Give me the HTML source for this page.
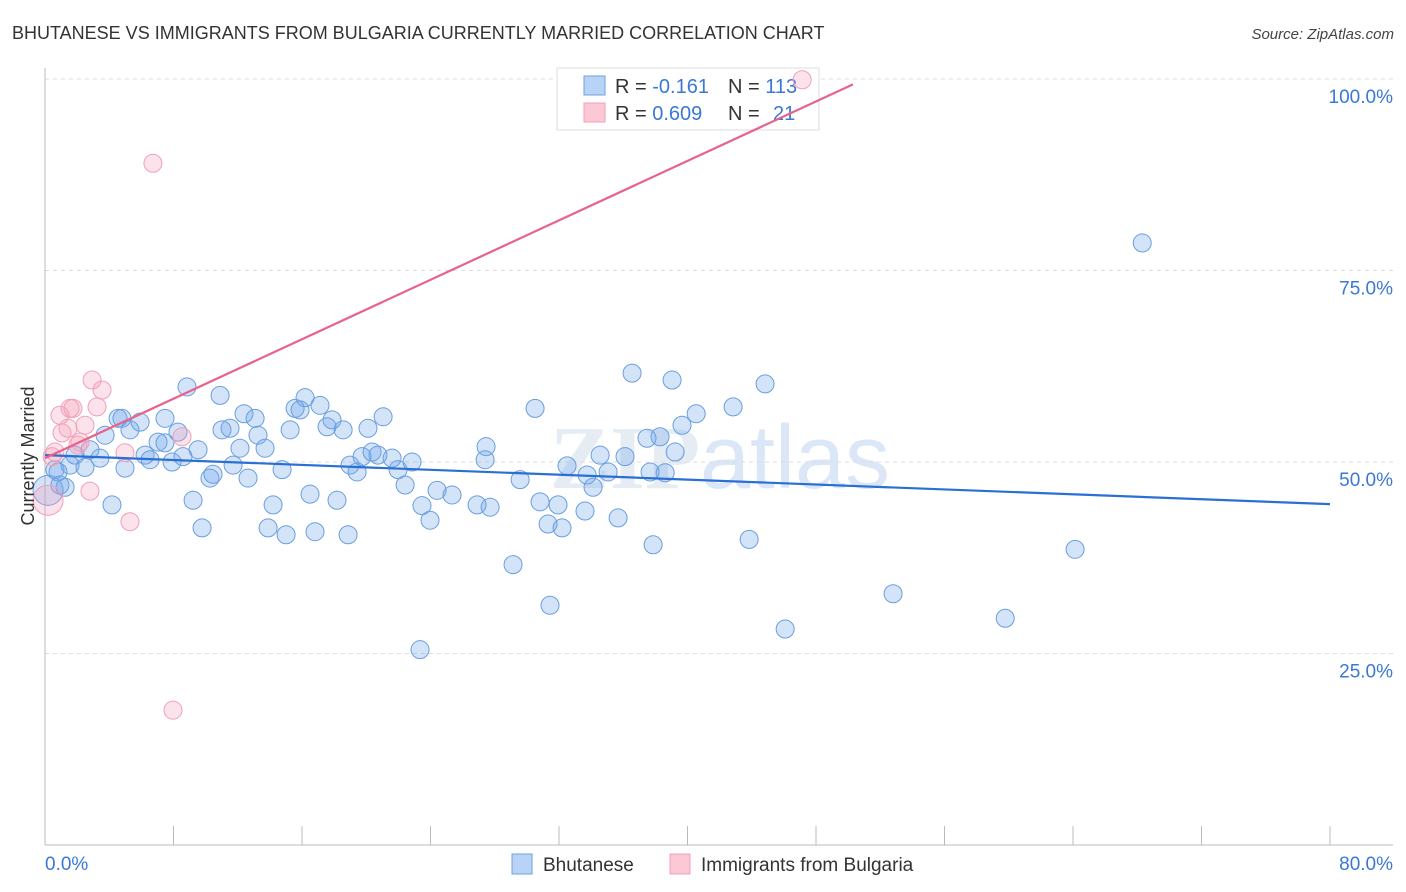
<!DOCTYPE html>
<html><head><meta charset="utf-8"><style>
body{margin:0;background:#fff;font-family:"Liberation Sans",sans-serif;}
svg{display:block}
</style></head><body>
<svg id="chart" width="1406" height="892" viewBox="0 0 1406 892" xmlns="http://www.w3.org/2000/svg">
<text x="12" y="39" font-size="18" fill="#333" font-family="Liberation Sans, sans-serif">BHUTANESE VS IMMIGRANTS FROM BULGARIA CURRENTLY MARRIED CORRELATION CHART</text>
<text x="1394" y="39" font-size="15" fill="#444" text-anchor="end" font-style="italic">Source: ZipAtlas.com</text>
<text x="720" y="488" font-size="90" fill="#e6ecf4" text-anchor="middle" font-weight="bold" font-family="Liberation Serif, serif">ZIP<tspan font-weight="normal" font-family="Liberation Sans, sans-serif" fill="#dbe7f6">atlas</tspan></text>
<g id="grid"></g>
<g id="axes"></g>
<g>
<rect x="557" y="68" width="262" height="62" fill="#fff" stroke="#ddd"/>
<rect x="584" y="76" width="21" height="19" fill="#b8d3f5" stroke="#6ea0e0"/>
<rect x="584" y="103" width="21" height="19" fill="#fcc8d6" stroke="#f0a0b8"/>
<text x="615" y="93" font-size="20" fill="#333">R = <tspan fill="#3a78d6">-0.161</tspan></text>
<text x="728" y="93" font-size="20" fill="#333">N = <tspan fill="#3a78d6">113</tspan></text>
<text x="615" y="120" font-size="20" fill="#333">R = <tspan fill="#3a78d6">0.609</tspan></text>
<text x="728" y="120" font-size="20" fill="#333">N =</text>
<text x="773" y="120" font-size="20" fill="#3a78d6">21</text>
</g>
<g id="pts"></g>
<g id="lines"></g>
<text transform="translate(34,456) rotate(-90)" font-size="18" fill="#333" text-anchor="middle">Currently Married</text>
<g>
<rect x="512" y="854" width="20" height="20" fill="#b8d3f5" stroke="#6ea0e0"/>
<text x="543" y="871" font-size="19" fill="#333">Bhutanese</text>
<rect x="670" y="854" width="20" height="20" fill="#fcc8d6" stroke="#f0a0b8"/>
<text x="701" y="871" font-size="19" fill="#333">Immigrants from Bulgaria</text>
</g>
</svg>
<script>
const blueX=[0.62,0.19,0.93,1.25,0.81,1.56,1.87,2.49,2.80,3.42,3.74,4.17,4.55,4.79,4.98,5.29,5.92,6.23,6.54,7.04,7.47,7.47,7.91,8.28,8.59,8.84,9.22,9.53,9.78,10.27,10.46,10.90,11.02,11.52,11.71,12.14,12.39,12.64,13.08,13.26,13.70,13.89,14.20,14.76,15.01,15.26,15.57,15.88,16.19,16.50,16.81,17.12,17.56,17.87,18.18,18.56,18.87,18.99,19.43,19.74,20.11,20.36,20.73,21.05,21.61,21.98,22.42,22.85,23.35,23.47,23.97,24.41,25.34,26.90,27.40,27.71,27.46,29.14,29.58,30.51,30.82,31.32,31.44,31.94,32.19,32.50,33.62,33.75,34.12,34.56,35.06,35.68,36.11,36.55,37.48,37.67,37.86,38.29,38.61,39.04,39.23,39.66,40.54,42.84,43.84,44.83,46.08,52.80,59.78,64.13,68.31];
const blueY=[49.0,46.3,47.0,46.7,48.7,49.6,50.9,49.3,51.6,50.5,53.5,44.4,55.7,55.7,49.2,54.2,55.2,50.9,50.3,52.6,55.7,52.5,50.0,53.9,50.7,59.8,45.0,51.6,41.4,47.9,48.4,58.7,54.2,54.4,49.6,51.8,56.3,47.9,55.7,53.5,51.8,41.4,44.4,49.0,40.5,54.2,57.0,56.8,58.4,45.8,40.9,57.4,54.6,55.5,45.0,54.2,40.5,49.6,48.7,50.7,54.4,51.3,50.9,55.9,50.5,49.0,47.0,50.0,25.5,44.3,42.4,46.3,45.7,44.4,50.3,44.1,52.0,36.6,47.7,57.0,44.8,41.9,31.3,44.4,41.4,49.5,43.6,48.3,46.7,50.9,48.7,42.7,50.7,61.6,53.1,48.7,39.2,53.3,48.6,60.7,51.3,54.8,56.3,57.2,39.9,60.2,28.2,32.8,29.6,38.6,78.6];
const pinkX=[0.44,0.62,0.93,1.06,1.43,1.56,1.74,2.05,2.18,2.49,2.80,2.93,3.24,3.55,4.98,5.29,6.72,7.97,8.53,47.14,0.19];
const pinkY=[50.7,51.3,56.1,53.8,54.4,57.0,57.0,52.2,52.6,54.8,46.2,60.7,57.2,59.4,51.2,42.2,89.0,17.6,53.3,99.9,45.0];
const blueTrend=[[0,50.9],[80,44.5]];
const pinkTrend=[[0,50.5],[50.3,99.3]];
const yTicks=[100,75,50,25];
const yTickLabels=["100.0%","75.0%","50.0%","25.0%"];
const xTicks=[0,8,16,24,32,40,48,56,64,72,80];
const xLabels=[[0,"0.0%"],[80,"80.0%"]];
const NS="http://www.w3.org/2000/svg";
const sx=v=>45+v*(1285/80), sy=v=>845-v*7.66;
function mk(tag,attrs,parent){const e=document.createElementNS(NS,tag);for(const k in attrs)e.setAttribute(k,attrs[k]);parent.appendChild(e);return e;}
const grid=document.getElementById('grid'),axes=document.getElementById('axes'),pts=document.getElementById('pts'),lines=document.getElementById('lines');
yTicks.forEach((t,i)=>{
 const l=mk('line',{x1:45,x2:1393,y1:sy(t),y2:sy(t),stroke:'#dcdcdc','stroke-dasharray':'4,4'},grid);
 
 
 const tx=mk('text',{x:1393,y:sy(t)+24,'font-size':19,fill:'#3a78d6','text-anchor':'end'},axes);
 tx.textContent=yTickLabels[i];
 
 
});
const ya=mk('line',{x1:45,x2:45,y1:68,y2:845,stroke:'#bbb'},axes);


const xa=mk('line',{x1:45,x2:1393,y1:845,y2:845,stroke:'#bbb'},axes);


xTicks.forEach(t=>{
 const l=mk('line',{x1:sx(t),x2:sx(t),y1:826,y2:845,stroke:'#bbb'},axes);
 
 
});
xLabels.forEach(([v,s])=>{
 const tx=mk('text',{x:v===0?45:1393,y:870,'font-size':19,fill:'#3a78d6','text-anchor':v===0?'start':'end'},axes);
 tx.textContent=s;
 
 
});
blueX.forEach((x,i)=>{
 const c=mk('circle',{cx:sx(x),cy:sy(blueY[i]),r:i===1?15:9,fill:'rgba(110,165,235,0.3)',stroke:'#6a9ede','stroke-width':1},pts);
 
 
});
pinkX.forEach((x,i)=>{
 const c=mk('circle',{cx:sx(x),cy:sy(pinkY[i]),r:i===20?15:9,fill:'rgba(245,160,185,0.3)',stroke:'#f0a0b8','stroke-width':1},pts);
 
 
});
const bl=mk('line',{x1:sx(blueTrend[0][0]),y1:sy(blueTrend[0][1]),x2:sx(blueTrend[1][0]),y2:sy(blueTrend[1][1]),stroke:'#2a6fd6','stroke-width':2.2},lines);


const pl=mk('line',{x1:sx(pinkTrend[0][0]),y1:sy(pinkTrend[0][1]),x2:sx(pinkTrend[1][0]),y2:sy(pinkTrend[1][1]),stroke:'#e8628e','stroke-width':2.2},lines);


</script>
</body></html>
